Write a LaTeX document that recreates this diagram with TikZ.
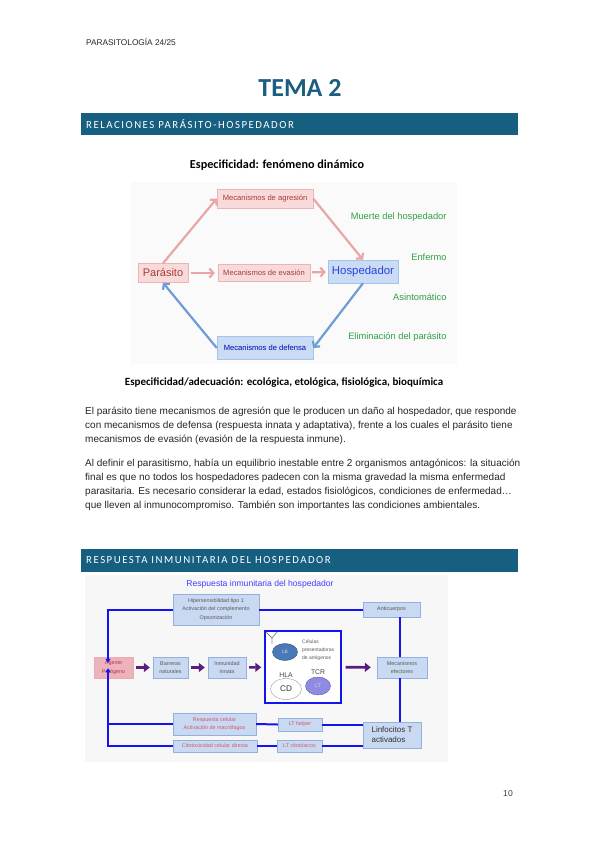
\documentclass[tikz,border=0pt]{standalone}
\usepackage{fontspec}
\setmainfont{Carlito}
\newfontfamily\arialfont{Liberation Sans}
\newfontfamily\barfont[LetterSpace=14]{Carlito}
\usetikzlibrary{arrows.meta,shapes.geometric}

\definecolor{temablue}{HTML}{1C5E82}
\definecolor{barblue}{HTML}{175F80}
\definecolor{pinkfill}{HTML}{F9DADA}
\definecolor{pinkline}{HTML}{EDB4B4}
\definecolor{pinktext}{HTML}{A83A3A}
\definecolor{pinkarrow}{HTML}{E8A6A6}
\definecolor{hosfill}{HTML}{CADCF4}
\definecolor{hosline}{HTML}{A6C3EA}
\definecolor{hostext}{HTML}{2B3FE0}
\definecolor{defarrow}{HTML}{6E9CD3}
\definecolor{greentext}{HTML}{2F9E45}
\definecolor{irfill}{HTML}{C9D9F1}
\definecolor{irline}{HTML}{93B1DD}
\definecolor{irblue}{HTML}{1414F0}
\definecolor{irpurple}{HTML}{5B1C7E}
\definecolor{irpink}{HTML}{D4566A}
\definecolor{agfill}{HTML}{EDB3BA}
\definecolor{agtext}{HTML}{B8304C}
\definecolor{lbfill}{HTML}{4B78B6}
\definecolor{ltfill}{HTML}{8F8BE2}

\tikzset{
  pinkbox/.style={draw=pinkline, fill=pinkfill, text=pinktext, inner sep=1pt,
    font=\arialfont\fontsize{7.6}{9}\selectfont},
  bluebox/.style={draw=hosline, fill=hosfill, text=hostext, inner sep=1pt},
  pinkarr/.style={draw=pinkarrow, line width=2.2pt, -{Straight Barb[length=4pt,width=9pt]}},
  bluearr/.style={draw=defarrow, line width=2.2pt, -{Straight Barb[length=4pt,width=9pt]}},
  outcome/.style={anchor=east, text=greentext, font=\arialfont\fontsize{9.3}{11}\selectfont},
  irbox/.style={draw=irline, fill=irfill, text=black!65, inner sep=1pt, align=center,
    font=\arialfont\fontsize{5.4}{8.5}\selectfont},
  irline/.style={draw=irblue, line width=2pt},
  irarr/.style={draw=irpurple, line width=2.6pt, -{Triangle[length=6pt,width=9pt]}},
  bodyline/.style={anchor=west, inner sep=0pt, text=black!85, font=\arialfont\fontsize{10}{12}\selectfont},
  secbar/.style={anchor=west, inner sep=0pt, text=white, font=\barfont\fontsize{10.8}{12}\selectfont},
}

\begin{document}
\begin{tikzpicture}[x=1pt,y=-1pt]
\useasboundingbox[fill=white] (0,0) rectangle (599,848);

% cabecera
\node[anchor=west, inner sep=0pt, text=black!85, font=\arialfont\fontsize{8.3}{10}\selectfont] (head) at (86,42) {PARASITOLOGÍA 24/25};
\node[inner sep=0pt, text=temablue, font=\bfseries\fontsize{26}{30}\selectfont] (tema) at (300,88) {TEMA 2};

% barra 1
\fill[barblue] (81,113) rectangle (518,135);
\node[secbar] (sec1) at (86,124) {RELACIONES PARÁSITO-HOSPEDADOR};

% especificidad
\fill[black!2] (131,182) rectangle (457,364);
\node[font=\bfseries\fontsize{12.2}{14}\selectfont] (esp) at (277,165) {Especificidad: fenómeno dinámico};
\node[font=\bfseries\fontsize{11}{13}\selectfont] (adec) at (284,383) {Especificidad/adecuación: ecológica, etológica, fisiológica, bioquímica};

\node[pinkbox, minimum width=96pt, minimum height=19pt] (agr) at (265,198.5) {Mecanismos de agresión};
\node[pinkbox, minimum width=50pt, minimum height=19pt, font=\arialfont\fontsize{11}{12}\selectfont] (par) at (163,273) {Parásito};
\node[pinkbox, minimum width=92pt, minimum height=17pt] (eva) at (264,273) {Mecanismos de evasión};
\node[bluebox, minimum width=70pt, minimum height=23pt, font=\arialfont\fontsize{11.4}{12}\selectfont] (hos) at (363,271.5) {Hospedador};
\node[bluebox, minimum width=96pt, minimum height=23pt, text=blue!70!black, font=\arialfont\fontsize{7.6}{9}\selectfont] (def) at (265,348) {Mecanismos de defensa};

\draw[pinkarr] (par.north) -- (agr.west);
\draw[pinkarr] (agr.east) -- (hos.north);
\draw[pinkarr, shorten <=3pt, shorten >=3pt] (par) -- (eva);
\draw[pinkarr, shorten <=2pt, shorten >=2pt] (eva) -- (hos);
\draw[bluearr] (hos.south) -- (def.east);
\draw[bluearr] (def.west) -- (par.south);

\node[outcome] (muerte) at (450,217) {Muerte del hospedador};
\node[outcome] (enf) at (450,257) {Enfermo};
\node[outcome] (asin) at (450,297) {Asintomático};
\node[outcome] (elim) at (450,337) {Eliminación del parásito};

% texto
\node[bodyline] (l1) at (85,412) {El parásito tiene mecanismos de agresión que le producen un daño al hospedador, que responde};
\node[bodyline] (l2) at (85,426) {con mecanismos de defensa (respuesta innata y adaptativa), frente a los cuales el parásito tiene};
\node[bodyline] (l3) at (85,440) {mecanismos de evasión (evasión de la respuesta inmune).};
\node[bodyline] (l4) at (85,464) {Al definir el parasitismo, había un equilibrio inestable entre 2 organismos antagónicos: la situación};
\node[bodyline] (l5) at (85,478) {final es que no todos los hospedadores padecen con la misma gravedad la misma enfermedad};
\node[bodyline] (l6) at (85,492) {parasitaria. Es necesario considerar la edad, estados fisiológicos, condiciones de enfermedad…};
\node[bodyline] (l7) at (85,506) {que lleven al inmunocompromiso. También son importantes las condiciones ambientales.};

% barra 2
\fill[barblue] (81,549) rectangle (518,572);
\node[secbar] (sec2) at (86,560.5) {RESPUESTA INMUNITARIA DEL HOSPEDADOR};

% respuesta inmunitaria
\fill[black!3] (85,575) rectangle (448,762);
\node[text=blue!75!white, font=\arialfont\fontsize{8.6}{10}\selectfont] (irtit) at (260,584) {Respuesta inmunitaria del hospedador};

\node[irbox, minimum width=86pt, minimum height=31pt] (hip) at (216,609.5) {Hipersensibilidad tipo 1\\Activación del complemento\\Opsonización};
\node[irbox, minimum width=57pt, minimum height=15pt] (ant) at (391.5,609.5) {Anticuerpos};
\node[irbox, minimum width=39pt, minimum height=21pt, fill=agfill, draw=irpink!50, text=agtext] (age) at (113.5,667.5) {Agente\\Patógeno};
\node[irbox, minimum width=35pt, minimum height=21pt] (bar) at (170.5,667.5) {Barreras\\naturales};
\node[irbox, minimum width=38pt, minimum height=21pt] (inm) at (227,667.5) {Inmunidad\\innata};
\node[draw=irblue, line width=1.4pt, fill=white, minimum width=76pt, minimum height=72pt] (big) at (303,667) {};
\node[irbox, minimum width=50pt, minimum height=21pt] (mef) at (402,667.5) {Mecanismos\\efectores};
\node[irbox, minimum width=83pt, minimum height=22pt, text=irpink] (rce) at (214.5,724) {Respuesta celular\\Activación de macrófagos};
\node[irbox, minimum width=44pt, minimum height=13pt, text=irpink] (lth) at (300,724.5) {LT helper};
\node[irbox, minimum width=58pt, minimum height=26pt, text=black!80, font=\arialfont\fontsize{8}{10}\selectfont, align=left] (lta) at (392,735) {Linfocitos T\\activados};
\node[irbox, minimum width=84pt, minimum height=12pt, text=irpink] (cit) at (215,746) {Citotoxicidad celular directa};
\node[irbox, minimum width=45pt, minimum height=12pt, text=irpink] (ltc) at (299.5,746) {LT citotóxicos};

% celulas presentadoras
\draw[black!45, line width=0.8pt] (266,632) -- (272,638) -- (277,632) (272,638) -- (272,644);
\node[ellipse, draw=lbfill!70!black, fill=lbfill, minimum width=25pt, minimum height=17pt, inner sep=0pt, text=white!85!black, font=\arialfont\fontsize{4.8}{6}\selectfont] (lb) at (285,652) {LB};
\node[anchor=west, align=left, inner sep=0pt, text=black!65, font=\arialfont\fontsize{5}{8.3}\selectfont] (cpa) at (302,650) {Células\\presentadoras\\de antígenos};
\node[inner sep=0pt, text=black!75, font=\arialfont\fontsize{6.8}{8}\selectfont] (hla) at (286,675) {HLA};
\node[ellipse, draw=black!40, fill=white, minimum width=31pt, minimum height=21pt, inner sep=0pt, text=black!80, font=\arialfont\fontsize{8.2}{9}\selectfont] (cd) at (286,689) {CD};
\node[inner sep=0pt, text=black!75, font=\arialfont\fontsize{6.8}{8}\selectfont] (tcr) at (318,672) {TCR};
\node[ellipse, draw=ltfill!70!black, fill=ltfill, minimum width=25pt, minimum height=18pt, inner sep=0pt, text=white!85!black, font=\arialfont\fontsize{5.2}{6}\selectfont] (lt) at (318,686) {LT};

% conexiones
\coordinate (lv) at (108,0);
\coordinate (rv) at (400,0);
\draw[irline] (hip.east) -- (ant.west);
\draw[irline, -{Triangle[length=4pt,width=5pt]}] (hip.west) -- (hip.west -| lv) -- ([yshift=-6pt]age.north -| lv);
\draw[irline] (ant.south -| rv) -- (mef.north -| rv);
\draw[irline] (mef.south -| rv) -- (lta.north -| rv);
\draw[irline] (lta.west |- lth) -- (lth.east);
\draw[irline] (lth.west) -- (rce.east);
\draw[irline] (rce.west) -- (rce.west -| lv);
\draw[irline] (lta.west |- ltc) -- (ltc.east);
\draw[irline] (ltc.west) -- (cit.east);
\draw[irline, -{Triangle[length=4pt,width=5pt]}] (cit.west) -- (cit.west -| lv) -- ([yshift=10pt]age.south -| lv);

\draw[irarr, shorten <=3pt, shorten >=3pt] (age) -- (bar);
\draw[irarr, shorten <=3pt, shorten >=3pt] (bar) -- (inm);
\draw[irarr, shorten <=3pt, shorten >=3pt] (inm) -- (big);
\draw[irarr, shorten <=4pt, shorten >=6pt] (big) -- (mef);

\node[inner sep=0pt, text=black!75, font=\arialfont\fontsize{8.6}{10}\selectfont] (pag) at (508,794) {10};
\end{tikzpicture}
\end{document}
